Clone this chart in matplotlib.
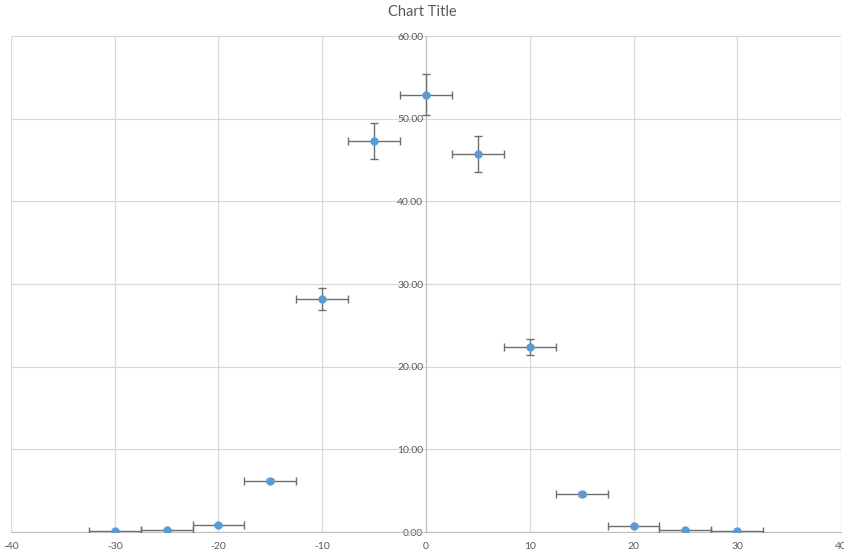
import matplotlib.pyplot as plt

x_values = [-30, -25, -20, -15, -10, -5, 0, 5, 10, 15, 20, 25, 30]
y_values = [0.1, 0.3, 0.85, 6.2, 28.2, 47.3, 52.9, 45.7, 22.4, 4.6, 0.7, 0.25, 0.12]
y_errors = [0.0, 0.0, 0.0, 0.2, 1.3, 2.2, 2.5, 2.2, 1.0, 0.2, 0.0, 0.0, 0.0]
x_errors = [2.5] * len(x_values)

x_ticks = list(range(-40, 41, 10))
y_ticks = list(range(0, 61, 10))

text_color = "#595959"
grid_color = "#D9D9D9"
axis_color = "#BFBFBF"

plt.rcParams["font.family"] = ["Lato", "DejaVu Sans"]
plt.rcParams["axes.unicode_minus"] = False

fig = plt.figure(figsize=(8.45, 5.54), dpi=100)
ax = fig.add_axes([11 / 845, 1 - 532 / 554, 830 / 845, 496 / 554])

# data points with x and y error bars
ax.errorbar(
    x_values, y_values, xerr=x_errors, yerr=y_errors,
    fmt="o", color="#5B9BD5", markersize=5,
    ecolor="#6E6E6E", elinewidth=1.0, capsize=3, capthick=1.0, zorder=3,
)

ax.set_xlim(-40, 40)
ax.set_ylim(0, 60)
ax.set_xticks(x_ticks)
ax.set_yticks(y_ticks)
ax.set_yticklabels([f"{v:.2f}" for v in y_ticks])
ax.grid(True, color=grid_color, linewidth=0.9, zorder=0)
ax.set_axisbelow(True)

ax.spines["left"].set_position(("data", 0))
ax.spines["left"].set_color(axis_color)
ax.spines["bottom"].set_color(axis_color)
ax.spines["top"].set_visible(False)
ax.spines["right"].set_visible(False)

ax.tick_params(axis="both", length=0, labelsize=7.5, colors=text_color)
ax.tick_params(axis="y", pad=2)
ax.tick_params(axis="x", pad=7)

fig.text(0.5, 1 - 12 / 554, "Chart Title", ha="center", va="center",
         fontsize=10.5, color=text_color)

fig.savefig("out.png", dpi=100)
